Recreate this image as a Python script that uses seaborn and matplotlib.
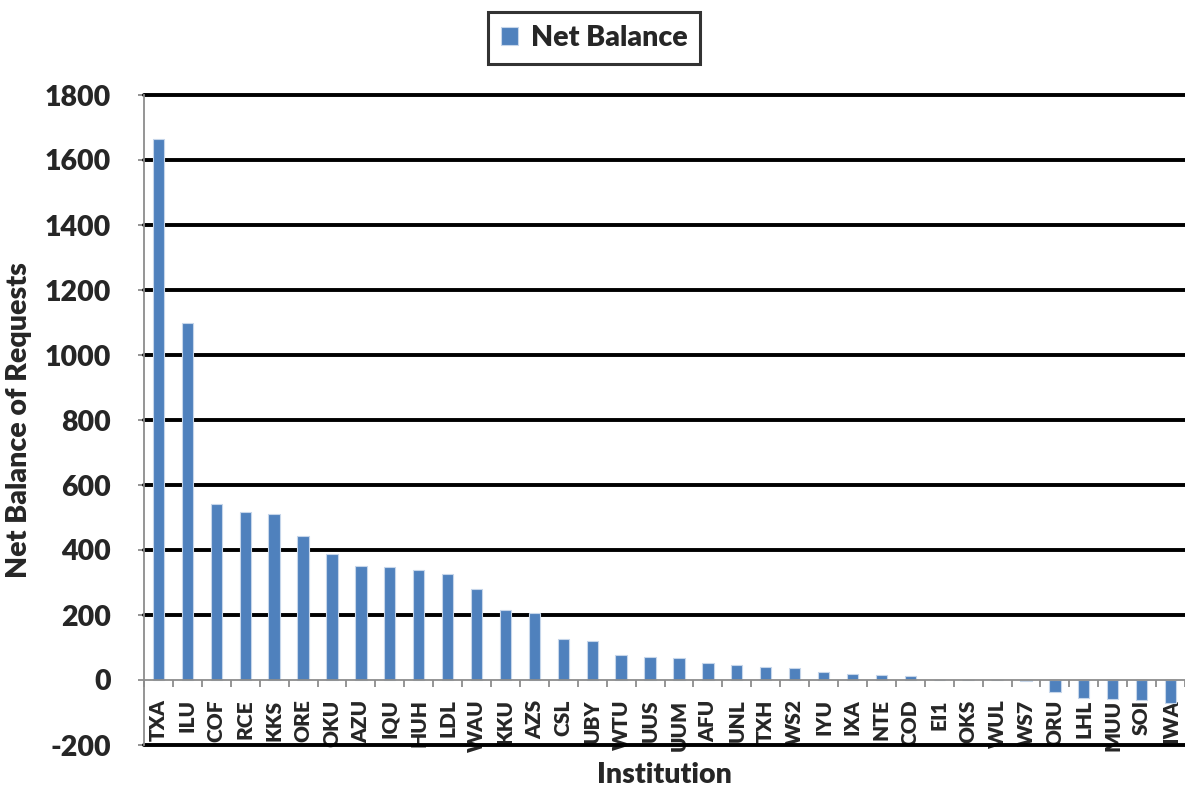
import numpy as np
import pandas as pd
import matplotlib
matplotlib.use("Agg")
import matplotlib.pyplot as plt
import seaborn as sns

institutions = ["TXA", "ILU", "COF", "RCE", "KKS", "ORE", "OKU", "AZU", "IQU", "HUH",
                "LDL", "WAU", "KKU", "AZS", "CSL", "UBY", "WTU", "UUS", "UUM", "AFU",
                "UNL", "TXH", "WS2", "IYU", "IXA", "NTE", "COD", "EI1", "OKS", "WUL",
                "WS7", "ORU", "LHL", "MUU", "SOI", "IWA"]
net_balance = [1665, 1098, 541, 517, 512, 442, 388, 350, 349, 338,
               325, 279, 215, 205, 127, 120, 76, 72, 67, 53,
               45, 41, 37, 26, 17, 15, 11, 0, 0, 0,
               -2, -38, -55, -59, -62, -70]
y_ticks = list(range(-200, 1801, 200))

df = pd.DataFrame({"Institution": institutions, "Net Balance": net_balance})

sns.set_theme(style="white")
plt.rcParams["font.family"] = ["Lato", "DejaVu Sans"]
plt.rcParams["font.weight"] = "heavy"

fig = plt.figure(figsize=(11.85, 7.91), dpi=100)
ax = fig.add_axes([144 / 1185, 1 - 745 / 791, 1041 / 1185, 650 / 791])

sns.barplot(data=df, x="Institution", y="Net Balance", color="#4F81BD",
            width=0.39, edgecolor="#c6d6ea", linewidth=0.8, saturation=1,
            label="Net Balance", ax=ax, zorder=3)

ax.set_xlim(-0.5, len(institutions) - 0.5)
ax.set_ylim(-200, 1800)
ax.set_yticks(y_ticks)
ax.set_yticklabels([str(v) for v in y_ticks], fontsize=20.5, fontweight="heavy")

# black gridlines except at zero (axis sits there)
for v in y_ticks:
    if v != 0:
        ax.axhline(v, color="black", lw=2.8, zorder=1, clip_on=False)

ax.spines["top"].set_visible(False)
ax.spines["right"].set_visible(False)
ax.spines["left"].set_color("#8c8c8c")
ax.spines["left"].set_linewidth(1.3)
ax.spines["bottom"].set_position(("data", 0))
ax.spines["bottom"].set_color("#8c8c8c")
ax.spines["bottom"].set_linewidth(1.3)
ax.spines["bottom"].set_zorder(4)

ax.tick_params(axis="y", which="major", left=True, length=4, width=1.3,
               color="#8c8c8c", pad=20)
ax.set_xticks(range(len(institutions)))
ax.set_xticklabels(institutions, rotation=90, fontsize=15, fontweight="heavy")
ax.set_xticks(np.arange(-0.5, len(institutions)), minor=True)
ax.tick_params(axis="x", which="major", length=0, pad=14)
ax.tick_params(axis="x", which="minor", bottom=True, length=5, width=1.3,
               color="#8c8c8c")

ax.set_xlabel("Institution", fontsize=20.5, fontweight="heavy")
ax.xaxis.set_label_coords(0.5, -0.026)
ax.set_ylabel("Net Balance of Requests", fontsize=20.5, fontweight="heavy", labelpad=9)

leg = ax.legend(loc="center", bbox_to_anchor=(594 / 1185, 1 - 38 / 791),
                bbox_transform=fig.transFigure, frameon=True, fancybox=False,
                prop={"size": 20.5, "weight": "heavy"}, handlelength=0.6,
                handleheight=0.6, handletextpad=0.45, borderpad=0.45,
                borderaxespad=0)
leg.get_frame().set_edgecolor("black")
leg.get_frame().set_linewidth(2.2)

fig.savefig("out.png", dpi=100)
